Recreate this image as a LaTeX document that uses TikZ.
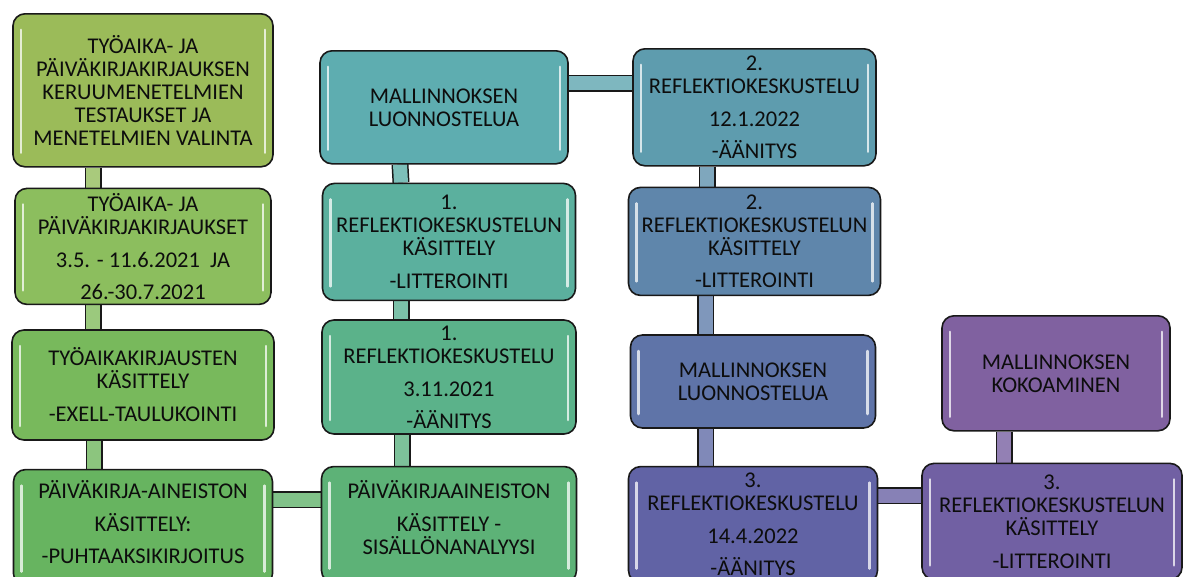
\documentclass[tikz,border=0pt]{standalone}
\usepackage{fontspec}
\setmainfont{Carlito}
\usepackage{tikz}
\usetikzlibrary{positioning,backgrounds}
\definecolor{cLa}{HTML}{9BBB59}
\definecolor{cLb}{HTML}{8CBE5E}
\definecolor{cLc}{HTML}{78B95C}
\definecolor{cLd}{HTML}{67B460}
\definecolor{cMd}{HTML}{5DB277}
\definecolor{cMc}{HTML}{5BB28A}
\definecolor{cMb}{HTML}{5BB09E}
\definecolor{cMa}{HTML}{5EADB0}
\definecolor{cRa}{HTML}{5E9CAE}
\definecolor{cRb}{HTML}{5F86AB}
\definecolor{cRc}{HTML}{5F74A8}
\definecolor{cRd}{HTML}{6163A5}
\definecolor{cPb}{HTML}{7160A3}
\definecolor{cPa}{HTML}{8061A0}

\begin{document}
\begin{tikzpicture}[x=1pt,y=-1pt]
                % procbox = one step of the process, joinbar = thick bar between two steps
                \tikzset{procbox/.style={draw=black!90, line width=1.6pt, rounded corners=12pt, fill=#1,
                    inner sep=2pt, align=center, text=black!95, font=\fontsize{22.5}{23}\selectfont,
                    path picture={
                      \draw[white, opacity=0.75, line width=2.5pt, line cap=round]
                        ([xshift=8pt,yshift=-16pt]path picture bounding box.north west) -- ([xshift=8pt,yshift=14pt]path picture bounding box.south west)
                        ([xshift=-8pt,yshift=-16pt]path picture bounding box.north east) -- ([xshift=-8pt,yshift=14pt]path picture bounding box.south east);}}}
                \tikzset{joinbar/.style={draw=black!90, line width=1.5pt, double=#1, double distance=14pt}}
                \useasboundingbox (0,0) rectangle (1188,576);
                \clip (0,0) rectangle (1188,576);
                % first column
                \node[procbox=cLa, minimum width=260pt, minimum height=153pt, anchor=north] (L1) at (143,13)
                  {TYÖAIKA- JA\\PÄIVÄKIRJAKIRJAUKSEN\\KERUUMENETELMIEN\\TESTAUKSET JA\\MENETELMIEN VALINTA};
                \node[procbox=cLb, minimum width=256pt, minimum height=116pt] (L2) [below=20pt of L1]
                  {TYÖAIKA- JA\\PÄIVÄKIRJAKIRJAUKSET\\[10pt]3.5. - 11.6.2021~ JA\\[9pt]26.-30.7.2021};
                \node[procbox=cLc, minimum width=262pt, minimum height=110pt] (L3) [below=24pt of L2]
                  {TYÖAIKAKIRJAUSTEN\\KÄSITTELY\\[10pt]-EXELL-TAULUKOINTI};
                \node[procbox=cLd, minimum width=259pt, minimum height=116pt, text depth=11pt] (L4) [below=28pt of L3]
                  {PÄIVÄKIRJA-AINEISTON\\[10pt]KÄSITTELY:\\[9pt]-PUHTAAKSIKIRJOITUS};
                % second column
                \node[procbox=cMa, minimum width=248pt, minimum height=113pt, anchor=north] (M1) at (444,50)
                  {MALLINNOKSEN\\LUONNOSTELUA};
                \node[procbox=cMb, minimum width=253pt, minimum height=117pt] (M2) [below=18pt of M1, xshift=5pt]
                  {1.\\REFLEKTIOKESKUSTELUN\\KÄSITTELY\\[10pt]-LITTEROINTI};
                \node[procbox=cMc, minimum width=254pt, minimum height=114pt] (M3) [below=18pt of M2]
                  {1.\\REFLEKTIOKESKUSTELU\\[10pt]3.11.2021\\[9pt]-ÄÄNITYS};
                \node[procbox=cMd, minimum width=255pt, minimum height=116pt, text depth=15pt] (M4) [below=31pt of M3]
                  {PÄIVÄKIRJAAINEISTON\\[10pt]KÄSITTELY -\\SISÄLLÖNANALYYSI};
                % third column
                \node[procbox=cRa, minimum width=243pt, minimum height=117pt, anchor=north] (R1) at (754.5,48)
                  {2.\\REFLEKTIOKESKUSTELU\\[10pt]12.1.2022\\[9pt]-ÄÄNITYS};
                \node[procbox=cRb, minimum width=252pt, minimum height=108pt] (R2) [below=20pt of R1]
                  {2.\\REFLEKTIOKESKUSTELUN\\KÄSITTELY\\[9pt]-LITTEROINTI};
                \node[procbox=cRc, minimum width=245pt, minimum height=93pt] (R3) [below=38pt of R2, xshift=-1.5pt]
                  {MALLINNOKSEN\\LUONNOSTELUA};
                \node[procbox=cRd, minimum width=249pt, minimum height=116pt] (R4) [below=37pt of R3]
                  {3.\\REFLEKTIOKESKUSTELU\\[10pt]14.4.2022\\[9pt]-ÄÄNITYS};
                % last column
                \node[procbox=cPa, minimum width=228pt, minimum height=115pt, anchor=north] (P1) at (1056,315)
                  {MALLINNOKSEN\\KOKOAMINEN};
                \node[procbox=cPb, minimum width=260pt, minimum height=116pt] (P2) [below=31pt of P1, xshift=-4pt]
                  {3.\\REFLEKTIOKESKUSTELUN\\KÄSITTELY\\[10pt]-LITTEROINTI};
                % bars behind the boxes
                \begin{scope}[on background layer]
                  \fill[white] (0,0) rectangle (1188,576);
                  \draw[joinbar=cLa!50!cLb!80!white] ([xshift=-50pt]L1.south) -- ([xshift=-50pt]L2.north);
                  \draw[joinbar=cLb!50!cLc!80!white] ([xshift=-50pt]L2.south) -- ([xshift=-50pt]L3.north);
                  \draw[joinbar=cLc!50!cLd!80!white] ([xshift=-49pt]L3.south) -- ([xshift=-49pt]L3.south |- L4.north);
                  \draw[joinbar=cLd!50!cMd!80!white] ([yshift=-31pt]L4.north east) -- ([yshift=-31pt]L4.north east -| M4.west);
                  \draw[joinbar=cMd!50!cMc!80!white] ([xshift=-47pt]M3.south) -- ([xshift=-47pt]M4.north);
                  \draw[joinbar=cMc!50!cMb!80!white] ([xshift=-48pt]M2.south) -- ([xshift=-48pt]M3.north);
                  \draw[joinbar=cMb!50!cMa!80!white] ([xshift=-44pt]M1.south) -- ([xshift=-48pt]M2.north);
                  \draw[joinbar=cMa!50!cRa!80!white] ([yshift=24pt]M1.east) -- ([yshift=24pt]M1.east -| R1.west);
                  \draw[joinbar=cRa!50!cRb!80!white] ([xshift=-47.5pt]R1.south) -- ([xshift=-47.5pt]R2.north);
                  \draw[joinbar=cRb!50!cRc!80!white] ([xshift=-49pt]R2.south) -- ([xshift=-47.5pt]R3.north);
                  \draw[joinbar=cRc!50!cRd!80!white] ([xshift=-47.5pt]R3.south) -- ([xshift=-47.5pt]R4.north);
                  \draw[joinbar=cRd!50!cPb!80!white] ([yshift=-30pt]R4.north east) -- ([yshift=-30pt]R4.north east -| P2.west);
                  \draw[joinbar=cPb!50!cPa!80!white] ([xshift=-52pt]P1.south) -- ([xshift=-48pt]P2.north);
                \end{scope}
        \end{tikzpicture}
\end{document}
